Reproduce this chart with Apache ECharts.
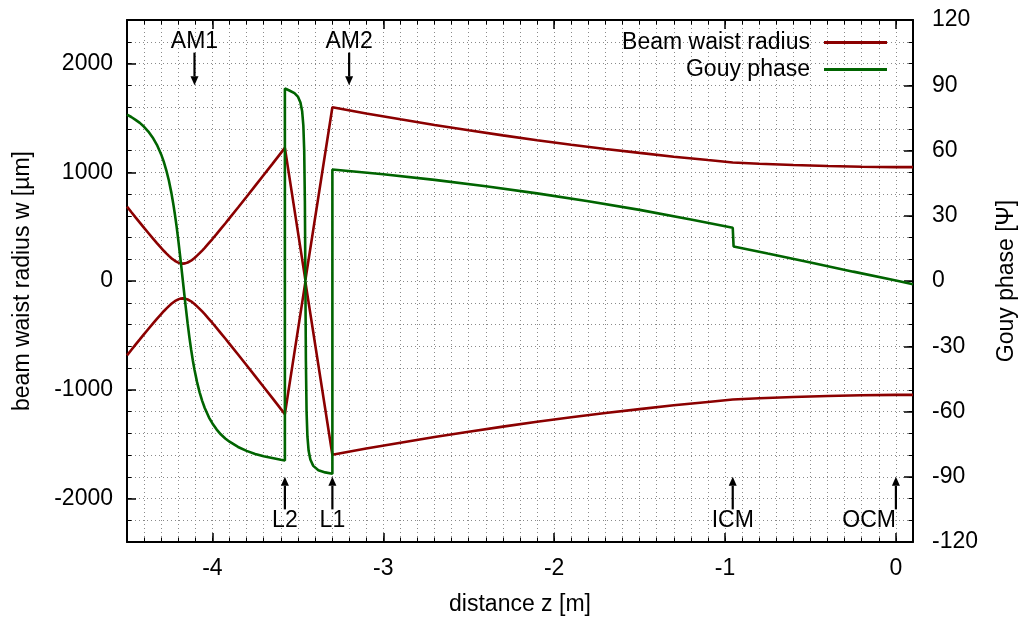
<!DOCTYPE html>
<html><head><meta charset="utf-8">
<script src="https://cdn.jsdelivr.net/npm/echarts@6/dist/echarts.min.js"></script>
<style>html,body{margin:0;padding:0;background:#fff}#chart{width:1026px;height:624px}</style>
</head><body><div id="chart"></div>
<script>
// Beam waist radius w(z) [um] (plotted as +w and -w)
const zBeam = [-4.5,-4.475,-4.45,-4.425,-4.4,-4.375,-4.35,-4.325,-4.3,-4.285,-4.27,-4.255,-4.24,-4.23,-4.22,-4.21,-4.2,-4.185,-4.173,
  -4.16,-4.145,-4.135,-4.125,-4.115,-4.105,-4.09,-4.075,-4.06,-4.045,-4.02,-4.0,-3.975,-3.95,-3.925,-3.9,-3.85,-3.8,-3.75,-3.7,-3.65,-3.6,-3.576,
  -3.456,-3.298,-3.1,-2.9,-2.7,-2.5,-2.3,-2.1,-1.9,-1.7,-1.5,-1.3,-1.1,-0.955,-0.8,-0.6,-0.4,-0.2,0,0.1];
const wBeam = [684,634,585,537,488,441,394,348,304,278,254,231,210,198,186,177,169,162,160,
  162,170,178,187,199,211,233,256,280,305,350,386,433,481,529,578,676,775,875,975,1075,1176,1224,
  8,1598,1541,1487,1435,1386,1339,1295,1253,1214,1178,1143,1112,1090,1078,1066,1057,1050,1047,1047];
// Gouy phase [deg]
const zGouy = [-4.5,-4.475,-4.45,-4.425,-4.4,-4.375,-4.35,-4.325,-4.3,-4.285,-4.27,-4.255,-4.24,-4.23,-4.22,-4.21,-4.2,-4.185,-4.173,
  -4.16,-4.145,-4.135,-4.125,-4.115,-4.105,-4.09,-4.075,-4.06,-4.045,-4.02,-4.0,-3.975,-3.95,-3.925,-3.9,-3.85,-3.8,-3.75,-3.7,-3.65,-3.6,-3.576,
  -3.576,-3.55,-3.52,-3.5,-3.485,-3.475,-3.468,-3.463,-3.459,-3.456,-3.453,-3.449,-3.444,-3.437,-3.427,-3.41,-3.38,-3.34,-3.298,
  -3.298,-3.0,-2.7,-2.4,-2.1,-1.8,-1.5,-1.2,-0.955,-0.95,-0.75,-0.5,-0.25,0,0.1];
const phiGouy = [76.5,75.4,74.1,72.7,70.9,68.7,66.0,62.6,58.2,54.9,50.9,46.2,40.4,35.9,30.8,25.2,18.9,8.7,0,
  -9.4,-19.6,-25.8,-31.4,-36.4,-40.8,-46.5,-51.2,-55.1,-58.4,-62.8,-65.5,-68.3,-70.6,-72.4,-73.9,-76.3,-78.1,-79.5,-80.6,-81.4,-82.2,-82.5,
  88.5,87.6,86.4,84.8,82.1,78.1,71.6,60.3,36.9,0,-36.9,-60.3,-71.6,-78.1,-82.1,-85.0,-87.0,-88.0,-88.6,
  51.3,49.1,46.5,43.6,40.3,36.7,32.7,28.3,24.5,15.9,12.6,8.5,4.3,0.2,-1.5];
// tick labels
const xTickLabels = [-4,-3,-2,-1,0];
const yLeftTickLabels = [-2000,-1000,0,1000,2000];
const yRightTickLabels = [-120,-90,-60,-30,0,30,60,90,120];
// component markers
const markerNames = ['AM1','AM2','L2','L1','ICM','OCM'];
const markerZ = [-4.105,-3.2,-3.576,-3.298,-0.955,0];
const markerSide = [1,1,-1,-1,-1,-1];          // 1 = above (arrow down), -1 = below (arrow up)
const markerAlign = ['center','center','center','center','center','right'];

const FONT = 'Liberation Sans, Arial, sans-serif';
const FS = 23;
const RED = '#8b0000', GREEN = '#006400';
const dotted = {show:true, lineStyle:{color:'#8a8a8a', width:1, type:[1,3]}};
const txt = {fontSize:FS, color:'#000', fontFamily:FONT};

const upper = zBeam.map((z,i)=>[z, wBeam[i]]);
const lower = zBeam.map((z,i)=>[z, -wBeam[i]]);
const gouy = zGouy.map((z,i)=>[z, phiGouy[i]]);
const markerData = markerZ.map((z,i)=>[z, markerSide[i]]);

const majorX = {min:-4.5, max:0.1, type:'value'};
const chart = echarts.init(document.getElementById('chart'), null, {renderer:'canvas'});
chart.setOption({
  animation:false,
  backgroundColor:'#fff',
  textStyle:{fontFamily:FONT},
  grid:{left:127, right:113, top:20, bottom:82, containLabel:false},
  legend:[
    {data:['Beam waist radius'], right:139, top:31, orient:'vertical', align:'right', icon:'rect',
     itemWidth:63, itemHeight:3, padding:0, selectedMode:false,
     textStyle:Object.assign({padding:[0,9,0,0]}, txt)},
    {data:['Gouy phase'], right:139, top:58, orient:'vertical', align:'right', icon:'rect',
     itemWidth:63, itemHeight:3, padding:0, selectedMode:false,
     textStyle:Object.assign({padding:[0,9,0,0]}, txt)}
  ],
  xAxis:[
    Object.assign({}, majorX, {position:'bottom',
      axisLine:{show:true, onZero:false, lineStyle:{color:'#000', width:2}},
      axisTick:{show:true, inside:true, length:9, customValues:xTickLabels, lineStyle:{color:'#000', width:1.5}},
      axisLabel:Object.assign({show:true, customValues:xTickLabels, margin:15, formatter:v=>String(v)}, txt),
      splitLine:{show:false},
      name:'distance z [m]', nameLocation:'middle', nameGap:51, nameTextStyle:txt}),
    Object.assign({}, majorX, {position:'bottom', interval:0.1,
      axisLine:{show:false, onZero:false},
      axisTick:{show:true, inside:true, length:4.5, lineStyle:{color:'#000', width:1}},
      axisLabel:{show:false}, splitLine:dotted}),
    Object.assign({}, majorX, {position:'top',
      axisLine:{show:true, onZero:false, lineStyle:{color:'#000', width:2}},
      axisTick:{show:true, inside:true, length:9, customValues:xTickLabels, lineStyle:{color:'#000', width:1.5}},
      axisLabel:{show:false}, splitLine:{show:false}}),
    Object.assign({}, majorX, {position:'top', interval:0.1,
      axisLine:{show:false, onZero:false},
      axisTick:{show:true, inside:true, length:4.5, lineStyle:{color:'#000', width:1}},
      axisLabel:{show:false}, splitLine:{show:false}})
  ],
  yAxis:[
    {type:'value', min:-2400, max:2400, position:'left',
      axisLine:{show:true, onZero:false, lineStyle:{color:'#000', width:2}},
      axisTick:{show:true, inside:true, length:9, customValues:yLeftTickLabels, lineStyle:{color:'#000', width:1.5}},
      axisLabel:Object.assign({show:true, customValues:yLeftTickLabels, margin:14, formatter:v=>String(v)}, txt),
      splitLine:{show:false},
      name:'beam waist radius w [µm]', nameLocation:'middle', nameRotate:90, nameGap:93, nameTextStyle:txt},
    {type:'value', min:-2400, max:2400, position:'left', interval:200,
      axisLine:{show:false, onZero:false},
      axisTick:{show:true, inside:true, length:4.5, lineStyle:{color:'#000', width:1}},
      axisLabel:{show:false}, splitLine:dotted},
    {type:'value', min:-120, max:120, position:'right',
      axisLine:{show:true, onZero:false, lineStyle:{color:'#000', width:2}},
      axisTick:{show:true, inside:true, length:9, customValues:yRightTickLabels, lineStyle:{color:'#000', width:1.5}},
      axisLabel:Object.assign({show:true, customValues:yRightTickLabels, margin:19, formatter:v=>String(v)}, txt),
      splitLine:{show:false},
      name:'Gouy phase [Ψ]', nameLocation:'middle', nameRotate:90, nameGap:82, nameTextStyle:txt},
    {type:'value', min:-120, max:120, position:'right', interval:10,
      axisLine:{show:false, onZero:false},
      axisTick:{show:true, inside:true, length:4.5, lineStyle:{color:'#000', width:1}},
      axisLabel:{show:false}, splitLine:{show:false}}
  ],
  series:[
    {name:'Beam waist radius', type:'line', xAxisIndex:0, yAxisIndex:0, data:upper, showSymbol:false, symbol:'none',
     lineStyle:{color:RED, width:2.6}, itemStyle:{color:RED}, z:3},
    {name:'Beam waist radius', type:'line', xAxisIndex:0, yAxisIndex:0, data:lower, showSymbol:false, symbol:'none',
     lineStyle:{color:RED, width:2.6}, itemStyle:{color:RED}, z:3},
    {name:'Gouy phase', type:'line', xAxisIndex:0, yAxisIndex:2, data:gouy, showSymbol:false, symbol:'none',
     lineStyle:{color:GREEN, width:2.6}, itemStyle:{color:GREEN}, z:3},
    {name:'markers', type:'custom', xAxisIndex:0, yAxisIndex:2, data:markerData, silent:true, z:4,
     renderItem:(params, api)=>{
       const i = params.dataIndex;
       const z = api.value(0), s = api.value(1);
       const tail = api.coord([z, s*105]);
       const tip = api.coord([z, s*90]);
       const lab = api.coord([z, s*110]);
       const baseY = tip[1] - s*9;
       return {type:'group', children:[
         {type:'line', shape:{x1:tail[0], y1:tail[1], x2:tip[0], y2:baseY}, style:{stroke:'#000', lineWidth:2.2}},
         {type:'polygon', shape:{points:[[tip[0],tip[1]],[tip[0]-4,baseY],[tip[0]+4,baseY]]}, style:{fill:'#000'}},
         {type:'text', style:{text:markerNames[i], x:lab[0], y:lab[1], align:markerAlign[i], verticalAlign:'middle',
           fontSize:FS, fontFamily:FONT, fill:'#000'}}
       ]};
     }}
  ]
});
</script></body></html>
